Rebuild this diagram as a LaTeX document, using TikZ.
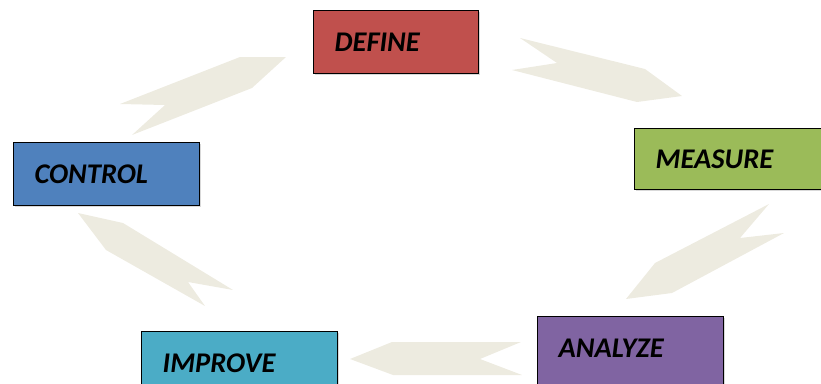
\documentclass[tikz,border=0pt]{standalone}
\usepackage{fontspec}
\setmainfont{Carlito}
\begin{document}
\begin{tikzpicture}[x=1pt,y=-1pt,
  stage/.style={draw=black, line width=1.3pt, anchor=north west,
    inner xsep=21pt, inner ysep=0pt, align=left,
    font=\fontsize{28.5}{30}\selectfont\bfseries\itshape},
  flow/.style={fill=flowbeige, draw=none}]
\definecolor{flowbeige}{HTML}{EDEBE0}
\definecolor{cdefine}{HTML}{C0504D}
\definecolor{cmeasure}{HTML}{9BBB59}
\definecolor{canalyze}{HTML}{8064A2}
\definecolor{cimprove}{HTML}{4BACC6}
\definecolor{ccontrol}{HTML}{4F81BD}
\useasboundingbox (0,0) rectangle (821,383);
\clip (0,0) rectangle (821,383);

% cycle arrows
\fill[flow] (520,38) -- (645,69) -- (682,96) -- (637,102) -- (512,70) -- (557,63) -- cycle;
\fill[flow] (769,204) -- (740,238) -- (784,233) -- (672,293) -- (626,299) -- (655,263) -- cycle;
\fill[flow] (521,342) -- (392,342) -- (350,359) -- (393,375) -- (522,375) -- (480,359) -- cycle;
\fill[flow] (78,213) -- (123,223) -- (233,290) -- (188,282) -- (205,306) -- (106,250) -- cycle;
\fill[flow] (120,104) -- (240,57) -- (286,57) -- (252,88) -- (132,135) -- (165,105) -- cycle;

% shadows
\foreach \x/\y/\w/\h in {313/10/165/63, 634/128/200/61, 537/316/186/80, 141/331/196/80, 13/142/186/63}
  \fill[black!15] (\x+2,\y+2) rectangle ++(\w,\h);

% stages
\node[stage, fill=cdefine, minimum width=165pt, minimum height=63pt, text width=123pt] (define) at (313,10) {DEFINE};
\node[stage, fill=cmeasure, minimum width=200pt, minimum height=61pt, text width=158pt] (measure) at (634,128) {MEASURE};
\node[stage, fill=canalyze, minimum width=186pt, minimum height=70pt, text width=144pt, text depth=7pt] (analyze) at (537,316) {ANALYZE};
\node[stage, fill=cimprove, minimum width=196pt, minimum height=63pt, text width=154pt] (improve) at (141,331) {IMPROVE};
\node[stage, fill=ccontrol, minimum width=186pt, minimum height=63pt, text width=144pt] (control) at (13,142) {CONTROL};
\end{tikzpicture}
\end{document}
